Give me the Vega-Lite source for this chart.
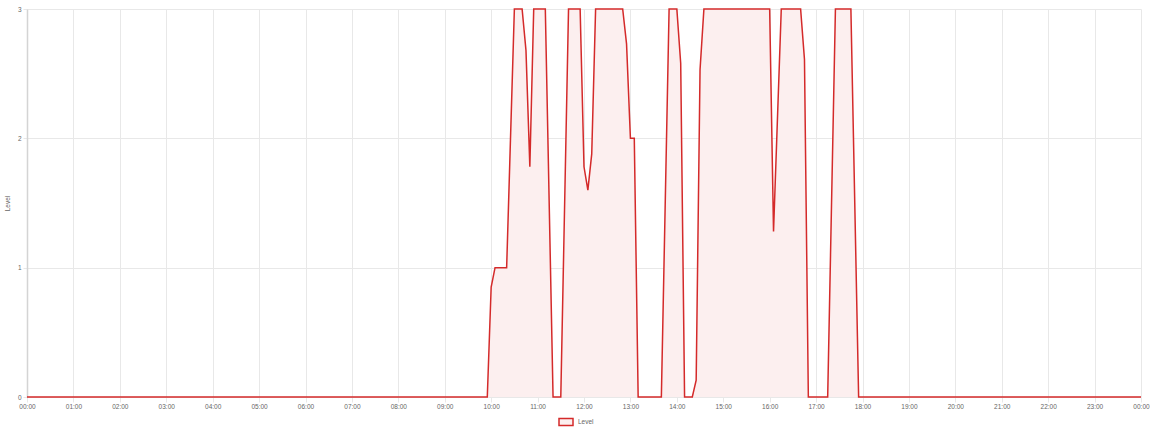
{
  "$schema": "https://vega.github.io/schema/vega-lite/v6.json",
  "width": 1114,
  "height": 388,
  "autosize": {"type": "none"},
  "padding": {"left": 27, "top": 9, "right": 11, "bottom": 37},
  "background": "#ffffff",
  "config": {
    "view": {"stroke": null},
    "font": "Liberation Sans",
    "axis": {
      "gridColor": "#e8e8e8",
      "gridWidth": 1,
      "tickColor": "#e8e8e8",
      "tickSize": 5,
      "labelColor": "#666666",
      "labelFontSize": 6.5,
      "titleColor": "#666666",
      "titleFontSize": 6.5,
      "titleFontWeight": "normal",
      "domainColor": "#d4d4d4"
    }
  },
  "data": {
    "values": [
      {"t": "2024-01-01T00:00:00", "level": 0},
      {"t": "2024-01-01T09:55:00", "level": 0},
      {"t": "2024-01-01T10:00:00", "level": 0.85},
      {"t": "2024-01-01T10:05:00", "level": 1},
      {"t": "2024-01-01T10:20:00", "level": 1},
      {"t": "2024-01-01T10:30:00", "level": 3},
      {"t": "2024-01-01T10:40:00", "level": 3},
      {"t": "2024-01-01T10:45:00", "level": 2.68},
      {"t": "2024-01-01T10:50:00", "level": 1.78},
      {"t": "2024-01-01T10:55:00", "level": 3},
      {"t": "2024-01-01T11:10:00", "level": 3},
      {"t": "2024-01-01T11:20:00", "level": 0},
      {"t": "2024-01-01T11:30:00", "level": 0},
      {"t": "2024-01-01T11:40:00", "level": 3},
      {"t": "2024-01-01T11:55:00", "level": 3},
      {"t": "2024-01-01T12:00:00", "level": 1.78},
      {"t": "2024-01-01T12:05:00", "level": 1.6},
      {"t": "2024-01-01T12:10:00", "level": 1.88},
      {"t": "2024-01-01T12:15:00", "level": 3},
      {"t": "2024-01-01T12:50:00", "level": 3},
      {"t": "2024-01-01T12:55:00", "level": 2.73},
      {"t": "2024-01-01T13:00:00", "level": 2},
      {"t": "2024-01-01T13:05:00", "level": 2},
      {"t": "2024-01-01T13:10:00", "level": 0},
      {"t": "2024-01-01T13:40:00", "level": 0},
      {"t": "2024-01-01T13:50:00", "level": 3},
      {"t": "2024-01-01T14:00:00", "level": 3},
      {"t": "2024-01-01T14:05:00", "level": 2.58},
      {"t": "2024-01-01T14:10:00", "level": 0},
      {"t": "2024-01-01T14:20:00", "level": 0},
      {"t": "2024-01-01T14:25:00", "level": 0.13},
      {"t": "2024-01-01T14:30:00", "level": 2.53},
      {"t": "2024-01-01T14:35:00", "level": 3},
      {"t": "2024-01-01T16:00:00", "level": 3},
      {"t": "2024-01-01T16:05:00", "level": 1.28},
      {"t": "2024-01-01T16:15:00", "level": 3},
      {"t": "2024-01-01T16:40:00", "level": 3},
      {"t": "2024-01-01T16:45:00", "level": 2.61},
      {"t": "2024-01-01T16:50:00", "level": 0},
      {"t": "2024-01-01T17:15:00", "level": 0},
      {"t": "2024-01-01T17:25:00", "level": 3},
      {"t": "2024-01-01T17:45:00", "level": 3},
      {"t": "2024-01-01T17:55:00", "level": 0},
      {"t": "2024-01-02T00:00:00", "level": 0}
    ]
  },
  "encoding": {
    "x": {
      "field": "t",
      "type": "temporal",
      "scale": {"nice": false},
      "axis": {
        "title": null,
        "format": "%H:%M",
        "tickCount": 24,
        "labelPadding": 1,
        "labelOverlap": false,
        "labelFlush": false,
        "domain": false
      }
    },
    "y": {
      "field": "level",
      "type": "quantitative",
      "scale": {"domain": [0, 3], "nice": false},
      "axis": {
        "title": "Level",
        "values": [0, 1, 2, 3],
        "labelPadding": 2,
        "labelFlush": false,
        "tickSize": 4,
        "titlePadding": 7,
        "domainWidth": 1.5
      }
    }
  },
  "layer": [
    {"mark": {"type": "area", "color": "#fcefef", "opacity": 1}},
    {
      "mark": {"type": "line", "strokeWidth": 1.5},
      "encoding": {
        "color": {
          "datum": "Level",
          "scale": {"range": ["#d42a2a"]},
          "legend": {
            "orient": "none",
            "legendX": 531,
            "legendY": 405,
            "title": null,
            "symbolType": "M-1,-0.5H1V0.5H-1Z",
            "symbolSize": 196,
            "symbolFillColor": "#fcefef",
            "symbolStrokeColor": "#d42a2a",
            "symbolStrokeWidth": 1.5,
            "labelFontSize": 6.5,
            "labelColor": "#666666",
            "labelOffset": 4
          }
        }
      }
    }
  ]
}
